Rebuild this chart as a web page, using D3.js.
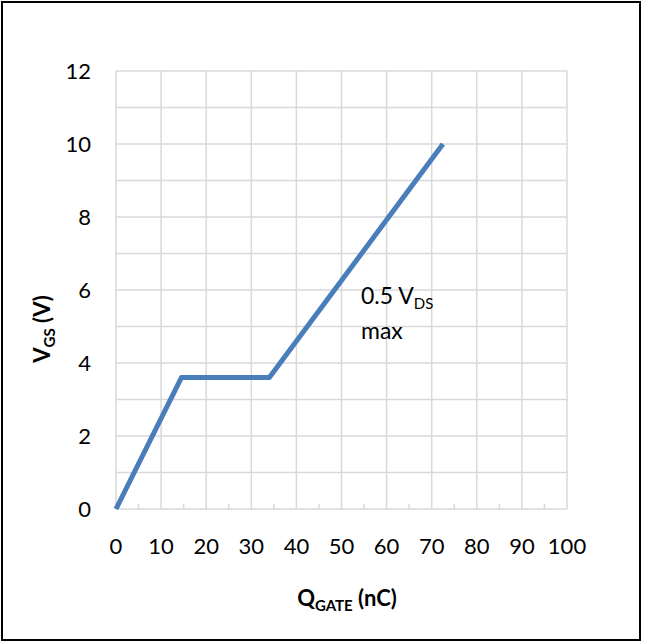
<!DOCTYPE html>
<html>
<head>
<meta charset="utf-8">
<script src="https://cdn.jsdelivr.net/npm/d3@7"></script>
<style>
  body { margin: 0; background: #fff; }
  text { font-family: Lato, "Open Sans", "Liberation Sans", sans-serif; fill: #000; }
</style>
</head>
<body>
<div class="chart"></div>
<script>
// gate charge curve
const qGate = [0, 14.5, 34, 72.5];
const vGs = [0, 3.6, 3.6, 10];
const xTicks = [0, 10, 20, 30, 40, 50, 60, 70, 80, 90, 100];
const yTicks = [0, 2, 4, 6, 8, 10, 12];
const yMinor = [1, 3, 5, 7, 9, 11];
const xMinor = [5, 15, 25, 35, 45, 55, 65, 75, 85, 95];

const svgWidth = 646, svgHeight = 643;
const plotLeft = 116, plotRight = 567, plotTop = 71, plotBottom = 509;

const x = d3.scaleLinear().domain([0, 100]).range([plotLeft, plotRight]);
const y = d3.scaleLinear().domain([0, 12]).range([plotBottom, plotTop]);

let svg = d3.select(".chart").append("svg")
    .attr("width", svgWidth)
    .attr("height", svgHeight)
    .style("display", "block");

// outer frame
svg.append("rect")
    .attr("x", 2).attr("y", 2)
    .attr("width", 638).attr("height", 638)
    .attr("fill", "none").attr("stroke", "#000").attr("stroke-width", 2);

const grid = svg.append("g").attr("stroke", "#d9d9d9").attr("stroke-width", 1.5);
grid.selectAll(".h").data(yTicks.concat(yMinor)).enter().append("line")
    .attr("x1", plotLeft).attr("x2", plotRight)
    .attr("y1", d => y(d)).attr("y2", d => y(d));
grid.selectAll(".v").data(xTicks).enter().append("line")
    .attr("x1", d => x(d)).attr("x2", d => x(d))
    .attr("y1", plotTop).attr("y2", plotBottom);
// minor ticks on x axis
grid.selectAll(".mx").data(xMinor).enter().append("line")
    .attr("x1", d => x(d)).attr("x2", d => x(d))
    .attr("y1", plotBottom).attr("y2", plotBottom - 5);

// tick labels
svg.append("g").selectAll("text").data(yTicks).enter().append("text")
    .attr("x", 91).attr("y", d => y(d) + 8)
    .attr("text-anchor", "end")
    .style("font-size", "22px")
    .text(d => d);
svg.append("g").selectAll("text").data(xTicks).enter().append("text")
    .attr("x", d => x(d)).attr("y", 554)
    .attr("text-anchor", "middle")
    .style("font-size", "22px")
    .text(d => d);

// data line
const line = d3.line().x(d => x(d[0])).y(d => y(d[1]));
svg.append("path")
    .datum(d3.zip(qGate, vGs))
    .attr("d", line)
    .attr("fill", "none")
    .attr("stroke", "#4a7ebb")
    .attr("stroke-width", 5)
    .attr("stroke-linejoin", "round");

// annotation
let ann = svg.append("text").attr("x", 361).attr("y", 304).style("font-size", "23px");
ann.append("tspan").text("0.5 V");
ann.append("tspan").attr("dy", 5).style("font-size", "15px").text("DS");
svg.append("text").attr("x", 361).attr("y", 339).style("font-size", "23px").text("max");

// axis titles
let xt = svg.append("text").attr("x", 347).attr("y", 606)
    .attr("text-anchor", "middle").style("font-size", "22px").style("font-weight", "bold");
xt.append("tspan").text("Q");
xt.append("tspan").attr("dy", 5).style("font-size", "15px").text("GATE");
xt.append("tspan").attr("dy", -5).text(" (nC)");

let yt = svg.append("text")
    .attr("transform", "translate(50,329) rotate(-90)")
    .attr("text-anchor", "middle").style("font-size", "22px").style("font-weight", "bold");
yt.append("tspan").text("V");
yt.append("tspan").attr("dy", 5).style("font-size", "15px").text("GS");
yt.append("tspan").attr("dy", -5).text(" (V)");
</script>
</body>
</html>
